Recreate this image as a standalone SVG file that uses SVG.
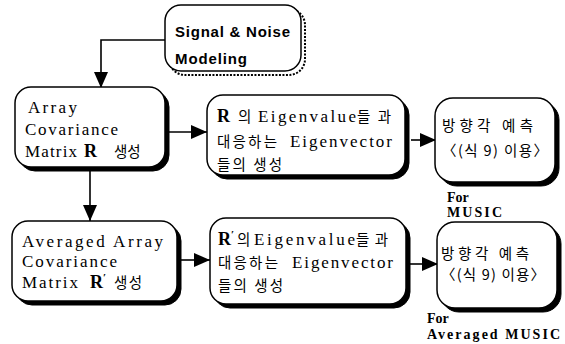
<svg xmlns="http://www.w3.org/2000/svg" width="565" height="344" viewBox="0 0 565 344">
<style>
.box{fill:#fff;stroke:#000;stroke-width:1.5}
.sh{fill:#000;stroke:#000;stroke-width:1}
.shd{fill:none;stroke:#000;stroke-width:2;stroke-dasharray:2 1.5}
.ln{fill:none;stroke:#000;stroke-width:1.6}
.t{font-family:"Liberation Serif","Noto Sans CJK KR",serif;font-size:17px;fill:#000}
.b{font-family:"Liberation Serif",serif;font-size:18px;font-weight:bold;fill:#000}
.k{font-family:"Noto Sans CJK KR","Noto Sans",sans-serif;font-size:14.5px;fill:#000}
.s{font-family:"Liberation Sans","DejaVu Sans",sans-serif;font-size:15px;font-weight:bold;fill:#000}
.f{font-family:"Liberation Serif",serif;font-size:14px;font-weight:bold;fill:#000}
</style>
<defs>
<marker id="ah" markerUnits="userSpaceOnUse" markerWidth="18" markerHeight="16" refX="16" refY="7" orient="auto">
<path d="M0,0 L16,7 L0,14 Z" fill="#000"/>
</marker>
</defs>
<g id="connectors">
<path class="ln" d="M165,40 H101 V88" marker-end="url(#ah)"/>
<path class="ln" d="M169,132 H207" marker-end="url(#ah)"/>
<path class="ln" d="M411,140 H436" marker-end="url(#ah)"/>
<path class="ln" d="M90,171 V221" marker-end="url(#ah)"/>
<path class="ln" d="M181,260 H210" marker-end="url(#ah)"/>
<path class="ln" d="M410,264 H438" marker-end="url(#ah)"/>
</g>
<g id="signal">
<rect class="shd" x="169" y="9" width="136" height="66" rx="16"/>
<rect class="box" x="165" y="5" width="136" height="66" rx="16"/>
<text class="s" x="175" y="37" textLength="115" lengthAdjust="spacing">Signal &amp; Noise</text>
<text class="s" x="175" y="64" textLength="72" lengthAdjust="spacing">Modeling</text>
</g>
<g id="array">
<rect class="sh" x="19" y="91" width="150" height="80" rx="16"/>
<rect class="box" x="15" y="87" width="150" height="80" rx="16"/>
<text class="t" x="28" y="113" textLength="49" lengthAdjust="spacing">Array</text>
<text class="t" x="25" y="135" textLength="93" lengthAdjust="spacing">Covariance</text>
<text class="t" x="25" y="157" textLength="52" lengthAdjust="spacing">Matrix</text>
<text class="b" x="84" y="157">R</text>
<text class="k" x="114" y="157" font-size="13">생성</text>
</g>
<g id="eig1">
<rect class="sh" x="211" y="99" width="198" height="80" rx="16"/>
<rect class="box" x="207" y="95" width="198" height="80" rx="16"/>
<text class="b" x="217" y="122">R</text>
<text class="k" x="238" y="122">의</text>
<text class="t" x="258" y="122" textLength="98" lengthAdjust="spacing">Eigenvalue</text>
<text class="k" x="357" y="122" textLength="34" lengthAdjust="spacing">들과</text>
<text class="k" x="217" y="147" textLength="60" lengthAdjust="spacing">대응하는</text>
<text class="t" x="290" y="147" textLength="102" lengthAdjust="spacing">Eigenvector</text>
<text class="k" x="217" y="170" textLength="65" lengthAdjust="spacing">들의 생성</text>
</g>
<g id="doa1">
<rect class="sh" x="439" y="102" width="120" height="84" rx="18"/>
<rect class="box" x="435" y="98" width="120" height="84" rx="18"/>
<text class="k" x="442" y="131" textLength="91" lengthAdjust="spacing">방향각 예측</text>
<text class="k" x="442" y="156" textLength="106" lengthAdjust="spacing">〈(식 9) 이용〉</text>
</g>
<text class="f" x="447" y="202">For</text>
<text class="f" x="447" y="217" textLength="55" lengthAdjust="spacing">MUSIC</text>
<g id="avg">
<rect class="sh" x="16" y="225" width="165" height="80" rx="16"/>
<rect class="box" x="12" y="221" width="165" height="80" rx="16"/>
<text class="t" x="22" y="247" textLength="141" lengthAdjust="spacing">Averaged Array</text>
<text class="t" x="22" y="267" textLength="95" lengthAdjust="spacing">Covariance</text>
<text class="t" x="22" y="288" textLength="56" lengthAdjust="spacing">Matrix</text>
<text class="b" x="90" y="288">R<tspan font-size="11" dy="-7">′</tspan></text>
<text class="k" x="114" y="288" font-size="13" textLength="28" lengthAdjust="spacing">생성</text>
</g>
<g id="eig2">
<rect class="sh" x="214" y="222" width="196" height="86" rx="16"/>
<rect class="box" x="210" y="218" width="196" height="86" rx="16"/>
<text class="b" x="218" y="245">R<tspan font-size="11" dy="-7">′</tspan></text>
<text class="k" x="237" y="245">의</text>
<text class="t" x="254" y="245" textLength="101" lengthAdjust="spacing">Eigenvalue</text>
<text class="k" x="356" y="245" textLength="32" lengthAdjust="spacing">들과</text>
<text class="k" x="218" y="268" textLength="60" lengthAdjust="spacing">대응하는</text>
<text class="t" x="292" y="268" textLength="101" lengthAdjust="spacing">Eigenvector</text>
<text class="k" x="218" y="291" textLength="65" lengthAdjust="spacing">들의 생성</text>
</g>
<g id="doa2">
<rect class="sh" x="441" y="226" width="120" height="86" rx="18"/>
<rect class="box" x="437" y="222" width="120" height="86" rx="18"/>
<text class="k" x="441" y="259" textLength="88" lengthAdjust="spacing">방향각 예측</text>
<text class="k" x="441" y="280" textLength="104" lengthAdjust="spacing">〈(식 9) 이용〉</text>
</g>
<text class="f" x="427" y="323">For</text>
<text class="f" x="427" y="339" textLength="133" lengthAdjust="spacing">Averaged MUSIC</text>
</svg>
